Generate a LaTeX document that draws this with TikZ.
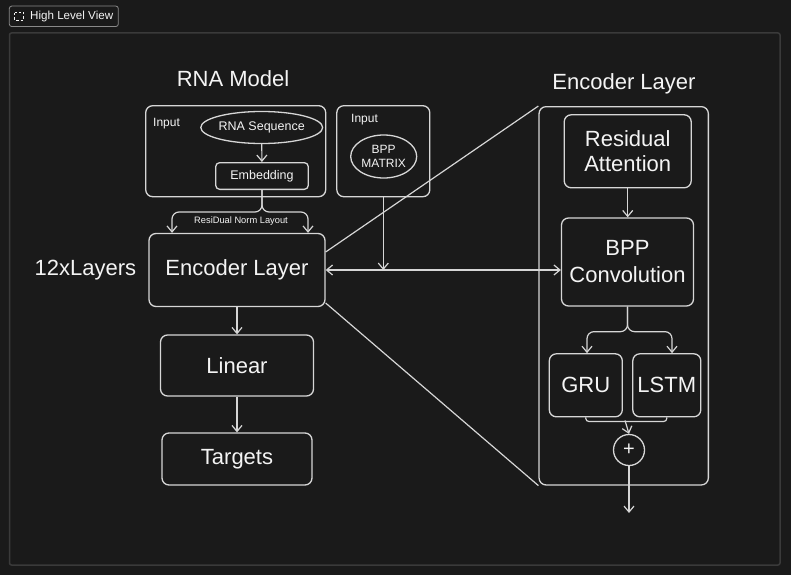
\documentclass[tikz,border=0pt]{standalone}
\usepackage{fontspec}
\setmainfont{Liberation Sans}
\usetikzlibrary{arrows.meta,shapes.geometric}
\definecolor{bg}{HTML}{1A1A1A}
\definecolor{ln}{HTML}{D6D6D6}
\definecolor{tx}{HTML}{F4F4F4}
\definecolor{fr}{HTML}{3A3A3A}
\definecolor{lb}{HTML}{8A8A8A}
\begin{document}
\begin{tikzpicture}[x=1pt,y=-1pt,
  box/.style={draw=ln,line width=1.3pt,rounded corners=7pt,inner sep=0pt,text=tx,align=center},
  bigtext/.style={font=\fontsize{22}{25}\selectfont},
  smalltext/.style={font=\fontsize{12.5}{14}\selectfont},
  oval/.style={draw=ln,line width=1.3pt,ellipse,inner sep=0pt,text=tx,align=center},
  conn/.style={draw=ln,line width=1.2pt},
  tip/.tip={Straight Barb[length=6pt,width=10pt]},
  arr/.style={conn,-tip},
  lbl/.style={text=tx,inner sep=0pt}]
\useasboundingbox (0,0) rectangle (791,575);
\fill[bg] (0,0) rectangle (791,575);
% frame and header label
\draw[fr,line width=1.5pt,rounded corners=2pt] (9.5,33) rectangle (780,565);
\node[draw=lb,line width=0.8pt,rounded corners=2.5pt,minimum width=109pt,minimum height=20.5pt,inner sep=0pt] (hl) at (63.8,16.3) {};
\draw[tx,line width=1pt,dash pattern=on 2.5pt off 2pt] (14.8,12.6) rectangle (23.8,20.2);
\node[lbl,anchor=west,font=\fontsize{11.6}{13}\selectfont] (hlt) at (30,16.5) {High Level View};
% left column
\node[lbl,bigtext] (t1) at (233,79) {RNA Model};
\node[box,minimum width=180pt,minimum height=91pt] (in1) at (235.7,151.2) {};
\node[lbl,anchor=west,font=\fontsize{12}{14}\selectfont] (in1l) at (153,124) {Input};
\node[oval,smalltext,minimum width=117pt,minimum height=32pt] (seq) at (261.7,127.5) {RNA Sequence};
\node[box,smalltext,rounded corners=4pt,minimum width=92.6pt,minimum height=26.7pt] (emb) at (262,176) {Embedding};
\draw[arr] (seq) -- (emb);
\node[box,bigtext,minimum width=176pt,minimum height=73pt] (enc) at (237,270) {Encoder Layer};
\coordinate (bl) at (172,0);
\coordinate (br) at (308,0);
\draw[arr,rounded corners=7pt] (emb.south) -- ++(0,22) -| (bl |- enc.north);
\draw[arr,rounded corners=7pt] (emb.south) -- ++(0,22) -| (br |- enc.north);
\node[lbl,font=\fontsize{9.3}{11}\selectfont] (rdn) at (241,221.5) {ResiDual Norm Layout};
\node[lbl,bigtext] (rep) at (85.5,270) {12xLayers};
\node[box,bigtext,minimum width=153pt,minimum height=61pt] (lin) at (237,365.5) {Linear};
\node[box,bigtext,minimum width=150pt,minimum height=52pt] (tgt) at (237,459) {Targets};
\draw[arr] (enc.south) -- (lin.north);
\draw[arr] (lin.south) -- (tgt.north);
% BPP input
\node[box,minimum width=93pt,minimum height=91pt] (in2) at (383.3,151.2) {};
\node[lbl,anchor=west,font=\fontsize{12}{14}\selectfont] (in2l) at (351,120) {Input};
\node[oval,font=\fontsize{12}{14}\selectfont,minimum width=66pt,minimum height=43pt] (bpp) at (383.7,156.5) {BPP\\MATRIX};
% encoder layer detail
\node[lbl,bigtext] (t2) at (624,84) {Encoder Layer};
\node[box,minimum width=169.3pt,minimum height=378.3pt] (ebox) at (623.7,295.8) {};
\node[box,bigtext,minimum width=127pt,minimum height=73pt] (ra) at (627.7,151.3) {Residual\\Attention};
\node[box,bigtext,font=\fontsize{22}{27}\selectfont,minimum width=132pt,minimum height=88pt] (conv) at (627.5,262) {BPP\\Convolution};
\draw[arr] (ra.south) -- (ra.south |- conv.north);
\node[box,bigtext,minimum width=73pt,minimum height=63pt] (gru) at (585.8,385.3) {GRU};
\node[box,bigtext,minimum width=68pt,minimum height=63pt] (lstm) at (666.8,385.3) {LSTM};
\coordinate (gl) at (587,0);
\coordinate (gr) at (672,0);
\draw[arr,rounded corners=7pt] (conv.south) -- ++(0,25) -| (gl |- gru.north);
\draw[arr,rounded corners=7pt] (conv.south) -- ++(0,25) -| (gr |- lstm.north);
\node[draw=ln,line width=1.3pt,circle,minimum size=31pt,inner sep=0pt,text=tx,font=\fontsize{20}{20}\selectfont] (plus) at (629,450) {+};
\draw[conn,rounded corners=3pt] (gru.south) -- ++(0,4) -| (lstm.south);
\coordinate (mid) at (625,420.5);
\draw[arr] (mid) -- (plus.north);
\coordinate (out) at (629,513);
\draw[arr] (plus.south) -- (out);
% connections
\draw[conn,tip-tip] (enc.east) -- (enc.east -| conv.west);
\draw[arr] (in2.south) -- (in2.south |- enc.east);
\draw[conn] ([yshift=18pt]enc.east) -- (ebox.north west);
\draw[conn] ([yshift=-33pt]enc.east) -- (ebox.south west);
\end{tikzpicture}
\end{document}
